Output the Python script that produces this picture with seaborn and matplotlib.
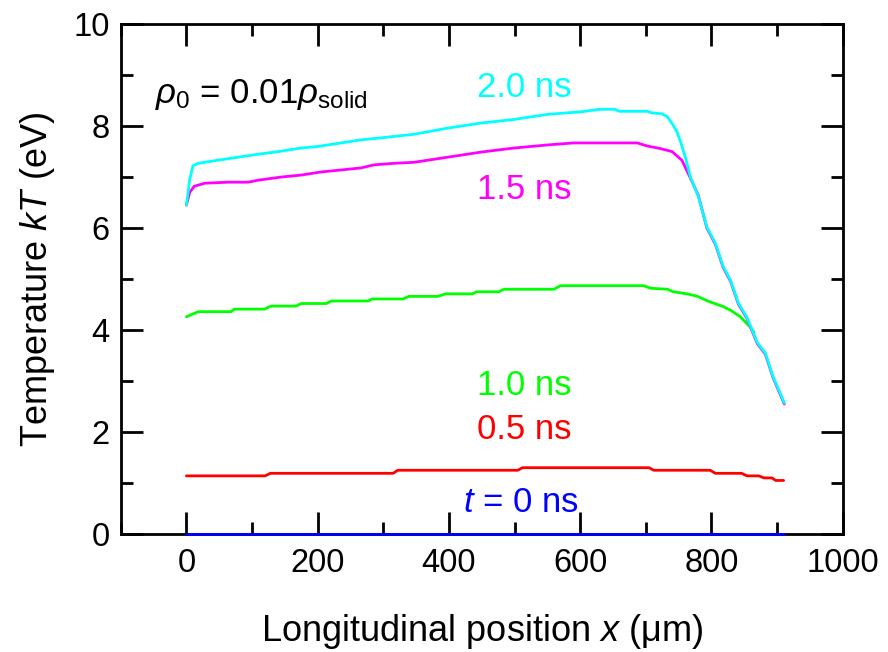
import matplotlib
matplotlib.use("Agg")
import matplotlib.pyplot as plt
from matplotlib.ticker import MultipleLocator
import seaborn as sns
import pandas as pd

# ---- data ----
x_0ns = [0, 910]
y_0ns = [0.0, 0.0]

x_05ns = [0, 120, 128, 315, 322, 505, 512, 705, 712, 798, 806, 846, 854, 872, 880, 892, 898, 910]
y_05ns = [1.14, 1.14, 1.19, 1.19, 1.25, 1.25, 1.30, 1.30, 1.25, 1.25, 1.19, 1.19, 1.14, 1.14,
          1.10, 1.10, 1.05, 1.05]

x_10ns = [0, 18, 68, 73, 119, 129, 167, 175, 213, 221, 277, 283, 330, 339, 383, 395, 436, 442,
          476, 484, 560, 570, 697, 707, 733, 742, 763, 779, 794, 818, 829, 844, 859, 865]
y_10ns = [4.26, 4.36, 4.36, 4.41, 4.41, 4.47, 4.47, 4.52, 4.52, 4.57, 4.57, 4.61, 4.61, 4.66,
          4.66, 4.71, 4.71, 4.75, 4.75, 4.80, 4.80, 4.87, 4.87, 4.82, 4.80, 4.75, 4.71, 4.66,
          4.57, 4.46, 4.39, 4.26, 4.06, 3.95]

x_15ns = [0, 5, 12, 28, 64, 94, 110, 144, 175, 205, 236, 266, 286, 316, 347, 398, 449, 499,
          550, 590, 687, 702, 722, 740, 755, 768, 780, 793, 806, 818, 829, 841, 854, 870, 882,
          894, 911]
y_15ns = [6.45, 6.70, 6.82, 6.88, 6.90, 6.90, 6.94, 7.00, 7.04, 7.10, 7.14, 7.18, 7.24, 7.27,
          7.29, 7.39, 7.49, 7.57, 7.63, 7.67, 7.67, 7.61, 7.56, 7.50, 7.33, 6.98, 6.64, 6.00,
          5.68, 5.22, 4.96, 4.51, 4.23, 3.73, 3.53, 3.06, 2.55]

x_20ns = [0, 5, 10, 18, 38, 58, 84, 110, 140, 175, 200, 236, 266, 297, 347, 398, 449, 499,
          550, 601, 630, 652, 660, 703, 709, 725, 733, 740, 747, 753, 760, 768, 780, 793, 806,
          818, 829, 841, 854, 870, 882, 894, 911]
y_20ns = [6.45, 6.95, 7.22, 7.27, 7.31, 7.35, 7.40, 7.45, 7.50, 7.57, 7.60, 7.67, 7.73, 7.77,
          7.84, 7.96, 8.06, 8.13, 8.23, 8.28, 8.33, 8.33, 8.29, 8.29, 8.26, 8.24, 8.18, 8.05,
          7.90, 7.69, 7.40, 7.00, 6.62, 6.02, 5.70, 5.24, 4.98, 4.53, 4.25, 3.75, 3.55, 3.08,
          2.57]

series_names = ["0 ns", "0.5 ns", "1.0 ns", "1.5 ns", "2.0 ns"]
series_colors = ["#0000FF", "#FF0000", "#00FF00", "#FF00FF", "#00FFFF"]
label_texts = [r"$t$ = 0 ns", "0.5 ns", "1.0 ns", "1.5 ns", "2.0 ns"]
label_x = [510, 515, 515, 515, 515]
label_y = [0.62, 2.04, 2.92, 6.75, 8.75]

xticks = [0, 200, 400, 600, 800, 1000]
yticks = [0, 2, 4, 6, 8, 10]

# ---- long-form table ----
frames = []
for name, xs, ys in zip(series_names,
                        [x_0ns, x_05ns, x_10ns, x_15ns, x_20ns],
                        [y_0ns, y_05ns, y_10ns, y_15ns, y_20ns]):
    frames.append(pd.DataFrame({"x": xs, "T": ys, "time": name}))
df = pd.concat(frames, ignore_index=True)

sns.set_style("ticks")
plt.rcParams["font.family"] = ["Liberation Sans", "DejaVu Sans"]
plt.rcParams["mathtext.fontset"] = "custom"
plt.rcParams["mathtext.rm"] = "Liberation Sans"
plt.rcParams["mathtext.it"] = "Liberation Sans:italic"
plt.rcParams["mathtext.bf"] = "Liberation Sans:bold"
plt.rcParams["text.color"] = "black"
plt.rcParams["axes.labelcolor"] = "black"

fig, ax = plt.subplots(figsize=(8.88, 6.52), dpi=100)
fig.subplots_adjust(left=0.136, right=0.949, bottom=0.181, top=0.963)

sns.lineplot(data=df, x="x", y="T", hue="time", hue_order=series_names,
             palette=dict(zip(series_names, series_colors)), estimator=None,
             sort=False, linewidth=2.0, legend=False, ax=ax)
for line in ax.get_lines():
    line.set_clip_on(False)
    line.set_zorder(5)
    line.set_solid_joinstyle("round")

ax.set_xlim(-100, 1000)
ax.set_ylim(0, 10)
ax.set_xticks(xticks)
ax.set_yticks(yticks)
ax.xaxis.set_minor_locator(MultipleLocator(100))
ax.yaxis.set_minor_locator(MultipleLocator(1))
ax.tick_params(which="both", direction="in", top=True, right=True, width=2.0,
               labelsize=23.5, colors="black")
ax.tick_params(which="major", length=16, pad=8)
ax.tick_params(which="minor", length=8.5)
ax.tick_params(axis="x", which="major", pad=10)
for sp in ax.spines.values():
    sp.set_linewidth(2.0)
    sp.set_color("black")
    sp.set_visible(True)

ax.set_xlabel(r"Longitudinal position $x$ (μm)", fontsize=26, labelpad=24, color="black")
ax.set_ylabel(r"Temperature $kT$ (eV)", fontsize=26, labelpad=12, color="black")

for txt, tx, ty, c in zip(label_texts, label_x, label_y, series_colors):
    ax.text(tx, ty, txt, color=c, fontsize=25, ha="center", va="center")

ax.text(-48, 8.62, r"$\rho_0$ = 0.01$\rho_{\mathrm{solid}}$", fontsize=25,
        ha="left", va="center", color="black")

fig.savefig("out.png", dpi=100)
